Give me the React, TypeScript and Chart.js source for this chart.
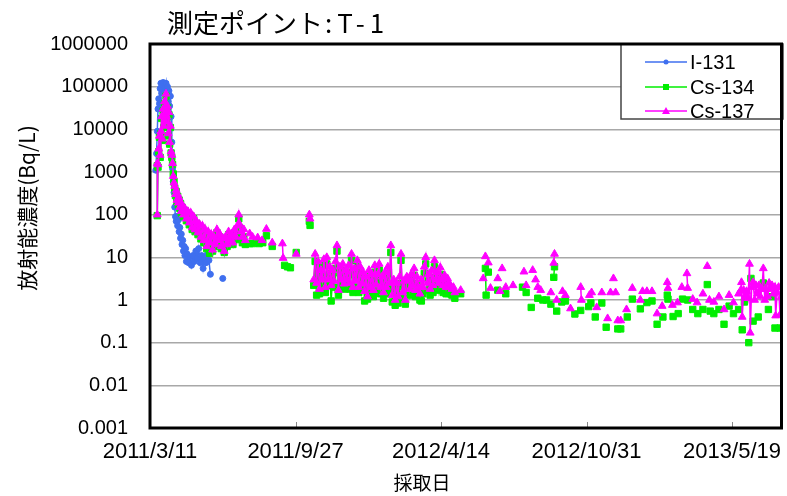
import React, { useEffect, useRef } from 'react';
import { Chart, registerables } from 'chart.js';

Chart.register(...registerables);

// ---- axis / label data ----
const chartTitle = '測定ポイント:T-1';
const yAxisTitle = '放射能濃度(Bq/L)';
const xAxisTitle = '採取日';
const seriesNames = ['I-131', 'Cs-134', 'Cs-137'];
const xTickDays = [0, 200, 400, 600, 800]; // days since 2011/3/11
const xTickLabels = ['2011/3/11', '2011/9/27', '2012/4/14', '2012/10/31', '2013/5/19'];
const xMaxDay = 868;
const yTickLabels = ['0.001', '0.01', '0.1', '1', '10', '100', '1000', '10000', '100000', '1000000'];

// ---- series: [days since 2011/3/11, Bq/L] ----
const i131Samples: [number, number][] = [
  [8, 1100], [9, 2700], [10, 9000], [11, 30000], [12, 52000], [13, 40000], [14, 90000], [15, 120000],
  [16, 70000], [17, 110000], [18, 125000], [19, 80000], [20, 115000], [21, 95000], [22, 120000],
  [23, 60000], [24, 100000], [25, 45000], [26, 80000], [27, 35000], [28, 60000], [29, 20000], [30, 5000],
  [31, 1200], [32, 600], [33, 330], [34, 150], [35, 90], [36, 70], [37, 90], [38, 55], [39, 75], [40, 40],
  [41, 50], [42, 28], [43, 35], [44, 20], [45, 25], [46, 14], [47, 18], [48, 11], [49, 16], [50, 8],
  [51, 12], [53, 7.5], [55, 10], [57, 6.5], [59, 11], [61, 8], [63, 14], [65, 9.5], [67, 16], [69, 7.5],
  [71, 11], [73, 5.5], [75, 9.5], [77, 7.5], [79, 12], [81, 8.5], [83, 4], [100, 3.2],
];

const cs134Samples: [number, number][] = [
  [10, 1400], [10, 95], [11, 1300], [12, 3000], [13, 6500], [14, 2200], [15, 8000], [16, 18000], [17, 5500],
  [18, 27000], [19, 11000], [20, 40000], [21, 14000], [22, 60000], [23, 18000], [24, 32000], [25, 7000],
  [26, 22000], [27, 4500], [28, 11000], [29, 2800], [30, 2200], [31, 1500], [32, 900], [33, 600], [34, 420],
  [35, 280], [36, 350], [37, 200], [38, 270], [39, 170], [40, 220], [41, 140], [42, 180], [43, 110], [44, 150],
  [46, 90], [48, 125], [50, 72], [52, 105], [54, 58], [56, 95], [58, 45], [60, 80], [62, 40], [64, 62],
  [66, 34], [68, 52], [70, 27], [72, 48], [74, 22], [76, 40], [78, 16], [80, 34], [82, 12.5], [84, 30],
  [86, 14], [88, 26], [90, 18], [92, 38], [94, 22], [96, 30], [98, 16], [100, 24], [102, 13], [104, 26],
  [106, 18], [108, 34], [110, 22], [112, 30], [114, 20], [116, 38], [118, 26], [120, 45], [122, 80],
  [123, 50], [125, 32], [127, 22], [129, 30], [131, 20],
  [137, 21], [141, 21], [146, 24], [150, 21], [155, 22], [160, 32], [168, 18], [185, 6.5], [189, 6],
  [193, 5.7], [201, 13], [219, 70], [220, 56],
  [225, 2.2], [227, 8], [229, 1.3], [231, 6], [233, 1.4], [235, 3.6], [237, 2.2], [239, 6.5], [241, 1.5],
  [243, 7], [245, 2.2], [247, 4.2], [249, 0.95], [251, 3.5], [253, 2], [255, 5.5], [257, 14], [259, 1.3],
  [261, 4.3], [263, 2.2], [265, 5], [267, 1.8], [269, 3.6], [271, 2.2], [273, 4.5], [275, 1.8], [277, 8.5],
  [279, 1.5], [281, 4], [283, 2], [285, 6], [287, 1.5], [289, 4.3], [291, 1.7], [293, 3.2], [295, 0.95],
  [297, 2.5], [299, 1.05], [301, 3.5], [303, 1.4], [305, 2.8], [307, 1.2], [309, 4.5], [311, 1.6],
  [313, 2.8], [315, 5], [317, 1.4], [319, 2.5], [321, 1.1], [323, 3.2], [325, 1.4], [327, 4.2], [329, 1.8],
  [331, 13], [333, 0.9], [335, 2.1], [337, 0.75], [339, 1.7], [341, 0.85], [343, 2.4], [345, 8.5],
  [347, 1.1], [349, 2], [351, 0.8], [353, 2.4], [355, 2.1], [357, 1.3], [359, 2.8], [361, 1.5], [363, 3.8],
  [365, 1.2], [367, 2.4], [369, 1.4], [371, 1], [373, 0.95], [375, 1.4], [377, 4.2], [379, 7], [381, 1.7],
  [383, 2.8], [385, 1.3], [387, 3.4], [389, 1.5], [391, 6], [393, 2.1], [395, 3.1], [397, 1.7], [399, 4],
  [401, 2.1], [403, 1.5], [405, 2.6], [407, 1.4], [409, 2.2], [411, 1.7], [413, 1.4], [415, 1.3],
  [417, 1.4], [419, 1.1],
  [427, 1.4], [461, 5.5], [462, 1.3], [465, 4.5], [478, 1.7], [489, 1.4], [512, 2], [517, 1.5], [524, 0.67],
  [533, 1.1], [540, 1], [545, 1], [551, 0.8], [555, 3.4], [556, 6], [559, 0.55], [566, 0.9], [571, 0.95],
  [584, 0.47], [592, 0.57], [603, 0.7], [606, 0.85], [612, 0.4], [621, 0.85], [627, 0.23], [643, 0.21],
  [647, 0.21], [656, 0.4], [663, 1.05], [674, 0.62], [683, 0.87], [690, 0.95], [697, 0.27], [705, 0.4],
  [711, 1.3], [712, 1.05], [719, 0.41], [726, 0.48], [732, 1.05], [739, 1], [746, 0.6], [753, 0.48],
  [760, 0.6], [766, 2.3], [770, 0.55], [775, 0.48], [782, 0.6], [789, 0.27], [796, 0.72], [802, 0.48],
  [809, 0.6], [814, 0.2], [817, 0.9], [823, 0.1], [826, 3.2], [829, 0.32], [836, 0.4], [843, 2.5],
  [850, 0.6], [855, 1.2], [859, 0.22], [866, 0.22],
];

const cs137Samples: [number, number][] = [
  [10, 1600], [10, 100], [11, 1500], [12, 3500], [13, 7000], [14, 2500], [15, 9000], [16, 20000], [17, 6000],
  [18, 30000], [19, 12000], [20, 45000], [21, 15000], [22, 68000], [23, 20000], [24, 35000], [25, 8000],
  [26, 25000], [27, 5000], [28, 12000], [29, 3000], [30, 2500], [31, 1600], [32, 800], [33, 560], [34, 470],
  [35, 300], [36, 380], [37, 220], [38, 300], [39, 190], [40, 250], [41, 150], [42, 200], [43, 120],
  [44, 170], [46, 100], [48, 140], [50, 80], [52, 120], [54, 65], [56, 110], [58, 50], [60, 90], [62, 45],
  [64, 70], [66, 38], [68, 60], [70, 30], [72, 55], [74, 25], [76, 45], [78, 18], [80, 40], [82, 22],
  [84, 35], [86, 15], [88, 30], [90, 20], [92, 45], [94, 25], [96, 35], [98, 18], [100, 28], [102, 14],
  [104, 30], [106, 20], [108, 40], [110, 25], [112, 35], [114, 22], [116, 45], [118, 30], [120, 55],
  [122, 100], [123, 60], [125, 40], [127, 30], [129, 45], [131, 25],
  [137, 36], [141, 30], [148, 29], [154, 25], [160, 46], [168, 22], [182, 21], [183, 9.6], [201, 12],
  [219, 100], [220, 80],
  [225, 3], [227, 12], [229, 2.5], [231, 8], [233, 1.8], [235, 5], [237, 3], [239, 9], [241, 2], [243, 10],
  [245, 3], [247, 6], [249, 2.2], [251, 5], [253, 2.8], [255, 8], [257, 19], [259, 1.7], [261, 6], [263, 3],
  [265, 7], [267, 2.4], [269, 5], [271, 3], [273, 6.5], [275, 2.5], [277, 12], [279, 2], [281, 5.5],
  [283, 2.8], [285, 8.5], [287, 2], [289, 6], [291, 2.4], [293, 4.5], [295, 1.6], [297, 3.5], [299, 1.2],
  [301, 5], [303, 2], [305, 4], [307, 1.7], [309, 6.5], [311, 2.3], [313, 4], [315, 7], [317, 2],
  [319, 3.5], [321, 1.5], [323, 4.5], [325, 2], [327, 6], [329, 2.5], [331, 19], [333, 1.3], [335, 3],
  [337, 1], [339, 2.5], [341, 1.2], [343, 3.5], [345, 12], [347, 1.5], [349, 2.8], [351, 1], [353, 3.5],
  [355, 3], [357, 1.8], [359, 4], [361, 2.2], [363, 5.5], [365, 1.7], [367, 3.5], [369, 2], [371, 1.4],
  [373, 3], [375, 2], [377, 6], [379, 10], [381, 2.5], [383, 4], [385, 1.8], [387, 4.9], [389, 2.2],
  [391, 8.5], [393, 3], [395, 4.5], [397, 2.5], [399, 5.8], [401, 3], [403, 2.2], [405, 3.8], [407, 2],
  [409, 3.2], [411, 2.5], [413, 2.2], [415, 1.8], [417, 2], [419, 1.5],
  [427, 1.7], [458, 3.2], [461, 10.5], [465, 7.5], [468, 1.9], [478, 3.2], [481, 1.6], [484, 5.5],
  [489, 2], [499, 2.2], [514, 4.6], [517, 2.2], [526, 5], [530, 3], [533, 2], [537, 1.7], [551, 1.5],
  [555, 7.4], [556, 12], [559, 1], [567, 1.6], [571, 1.3], [578, 0.63], [592, 2], [593, 1], [604, 1.3],
  [607, 1.5], [614, 0.67], [621, 1.5], [629, 0.37], [633, 1.5], [637, 3.2], [640, 1.5], [643, 0.33],
  [647, 0.33], [655, 0.6], [663, 1.9], [674, 1], [677, 1.6], [683, 1.6], [690, 1.6], [697, 0.48],
  [704, 0.72], [711, 2.6], [712, 1.9], [718, 0.76], [725, 0.87], [731, 2], [738, 4.2], [739, 1.9],
  [746, 1.05], [752, 0.87], [760, 1.4], [766, 6.2], [769, 1], [775, 0.9], [782, 1.2], [789, 0.6],
  [796, 1.3], [802, 0.87], [809, 1.4], [812, 1.7],
  [813, 2.6], [814, 0.4], [816, 1.7], [818, 1.2], [820, 1.6], [822, 1.1], [824, 7], [825, 0.17], [827, 2],
  [829, 2.6], [831, 1], [833, 2.2], [835, 1.4], [837, 2.2], [839, 1.2], [841, 1.8], [843, 5.5], [845, 1],
  [847, 1.8], [849, 1.2], [851, 2.5], [853, 1.8], [855, 2.2], [857, 1.4], [859, 2], [860, 0.43],
  [862, 1.5], [864, 2], [866, 0.45], [868, 1.2],
];

const seriesColors = ['#3F6FEF', '#00EE00', '#FF00FF'];
const seriesShapes = ['circle', 'rect', 'triangle'];
const seriesRadius = [3, 4.5, 4.5];

const LATIN = "'Liberation Sans', Arial, sans-serif";
const CJK = "'Noto Sans CJK JP', 'Noto Sans', sans-serif";

const toPoints = (s: [number, number][]) => s.map(([x, y]) => ({ x, y }));

// Excel-style: consecutive daily samples are joined, isolated samples are not
const gapSegment = {
  borderColor: (ctx: any) => (ctx.p1.parsed.x - ctx.p0.parsed.x > 2 ? 'rgba(0,0,0,0)' : undefined),
};

const makeDataset = (idx: number, samples: [number, number][]) => ({
  label: seriesNames[idx],
  data: toPoints(samples),
  borderColor: seriesColors[idx],
  backgroundColor: seriesColors[idx],
  pointBackgroundColor: seriesColors[idx],
  pointBorderColor: seriesColors[idx],
  pointStyle: seriesShapes[idx],
  pointRadius: seriesRadius[idx],
  pointBorderWidth: 1,
  borderWidth: 1.5,
  tension: 0,
  fill: false,
  spanGaps: true,
  segment: gapSegment,
});

const decorPlugin = {
  id: 'decor',
  afterDraw(chart: any) {
    const { ctx, chartArea: a } = chart;
    const xs = chart.scales.x;
    ctx.save();
    // inside tick marks on the date axis
    ctx.strokeStyle = '#888';
    ctx.lineWidth = 1;
    xTickDays.forEach((d) => {
      const px = Math.round(xs.getPixelForValue(d)) + 0.5;
      ctx.beginPath();
      ctx.moveTo(px, a.bottom);
      ctx.lineTo(px, a.bottom - 6);
      ctx.stroke();
    });

    // legend box
    const lx = 621, ly = 44, lw = 162, lh = 75;
    ctx.fillStyle = '#fff';
    ctx.fillRect(lx, ly, lw, lh);
    ctx.strokeStyle = '#444';
    ctx.lineWidth = 1.5;
    ctx.strokeRect(lx, ly, lw, lh);

    // plot frame
    ctx.strokeStyle = '#000';
    ctx.lineWidth = 3;
    ctx.strokeRect(a.left, a.top, a.right - a.left, a.bottom - a.top);

    const rows = [62, 87, 111];
    ctx.font = `20px ${LATIN}`;
    ctx.textBaseline = 'middle';
    ctx.textAlign = 'left';
    seriesNames.forEach((name, i) => {
      const y = rows[i];
      ctx.strokeStyle = seriesColors[i];
      ctx.lineWidth = 1.5;
      ctx.beginPath();
      ctx.moveTo(645, y);
      ctx.lineTo(687, y);
      ctx.stroke();
      ctx.fillStyle = seriesColors[i];
      const mx = 666;
      if (i === 0) {
        ctx.beginPath();
        ctx.arc(mx, y, 2.5, 0, Math.PI * 2);
        ctx.fill();
      } else if (i === 1) {
        ctx.fillRect(mx - 3, y - 3, 6, 6);
      } else {
        ctx.beginPath();
        ctx.moveTo(mx, y - 4);
        ctx.lineTo(mx + 4, y + 3);
        ctx.lineTo(mx - 4, y + 3);
        ctx.closePath();
        ctx.fill();
      }
      ctx.fillStyle = '#000';
      ctx.fillText(name, 690, y + 1);
    });

    // chart title: Japanese part, then the point id with wider spacing
    ctx.fillStyle = '#000';
    ctx.font = `26px ${CJK}`;
    ctx.textAlign = 'left';
    ctx.textBaseline = 'middle';
    const cut = chartTitle.indexOf(':');
    const head = chartTitle.slice(0, cut);
    const tail = chartTitle.slice(cut);
    ctx.fillText(head, 167, 23);
    const hw = ctx.measureText(head).width;
    (ctx as any).letterSpacing = '5px';
    ctx.fillText(tail, 167 + hw + 2, 23);
    (ctx as any).letterSpacing = '0px';

    ctx.font = `19px ${CJK}`;
    ctx.textAlign = 'center';
    ctx.fillText(xAxisTitle, 422, 483);

    ctx.translate(27, 208);
    ctx.rotate(-Math.PI / 2);
    ctx.font = `21px ${CJK}`;
    ctx.fillText(yAxisTitle, 0, 0);
    ctx.restore();
  },
};

export default function App() {
  const ref = useRef<HTMLCanvasElement | null>(null);
  useEffect(() => {
    if (!ref.current) return;
    const chart = new Chart(ref.current, {
      type: 'line',
      data: {
        datasets: [
          makeDataset(2, cs137Samples),
          makeDataset(1, cs134Samples),
          makeDataset(0, i131Samples),
        ] as any,
      },
      options: {
        animation: false,
        responsive: false,
        devicePixelRatio: 1,
        layout: { padding: { top: 44, right: 2, left: 0, bottom: 0 } },
        plugins: { legend: { display: false }, title: { display: false }, tooltip: { enabled: false } },
        scales: {
          x: {
            type: 'linear',
            min: 0,
            max: xMaxDay,
            afterBuildTicks: (s: any) => {
              s.ticks = xTickDays.map((v) => ({ value: v }));
            },
            afterFit: (s: any) => {
              s.height = 68;
              s.paddingLeft = 0;
              s.paddingRight = 0;
            },
            ticks: {
              callback: (_v: any, i: number) => xTickLabels[i],
              maxRotation: 0,
              minRotation: 0,
              autoSkip: false,
              padding: 11,
              color: '#000',
              font: { family: LATIN, size: 22 },
            },
            grid: { display: false, drawTicks: false },
            border: { display: false },
          },
          y: {
            type: 'logarithmic',
            min: 0.001,
            max: 1000000,
            afterBuildTicks: (s: any) => {
              s.ticks = yTickLabels.map((l) => ({ value: Number(l) }));
            },
            afterFit: (s: any) => {
              s.width = 150;
              s.paddingTop = 0;
              s.paddingBottom = 0;
            },
            ticks: {
              callback: (_v: any, i: number) => yTickLabels[i],
              autoSkip: false,
              padding: 22,
              color: '#000',
              font: { family: LATIN, size: 20 },
            },
            grid: { color: '#A8A8A8', lineWidth: 1.5, drawTicks: false },
            border: { display: false },
          },
        },
      } as any,
      plugins: [decorPlugin],
    });
    return () => chart.destroy();
  }, []);
  return (
    <div style={{ position: 'absolute', left: 0, top: 0, width: 787, height: 496, background: '#fff' }}>
      <canvas ref={ref} width={787} height={496} />
    </div>
  );
}
